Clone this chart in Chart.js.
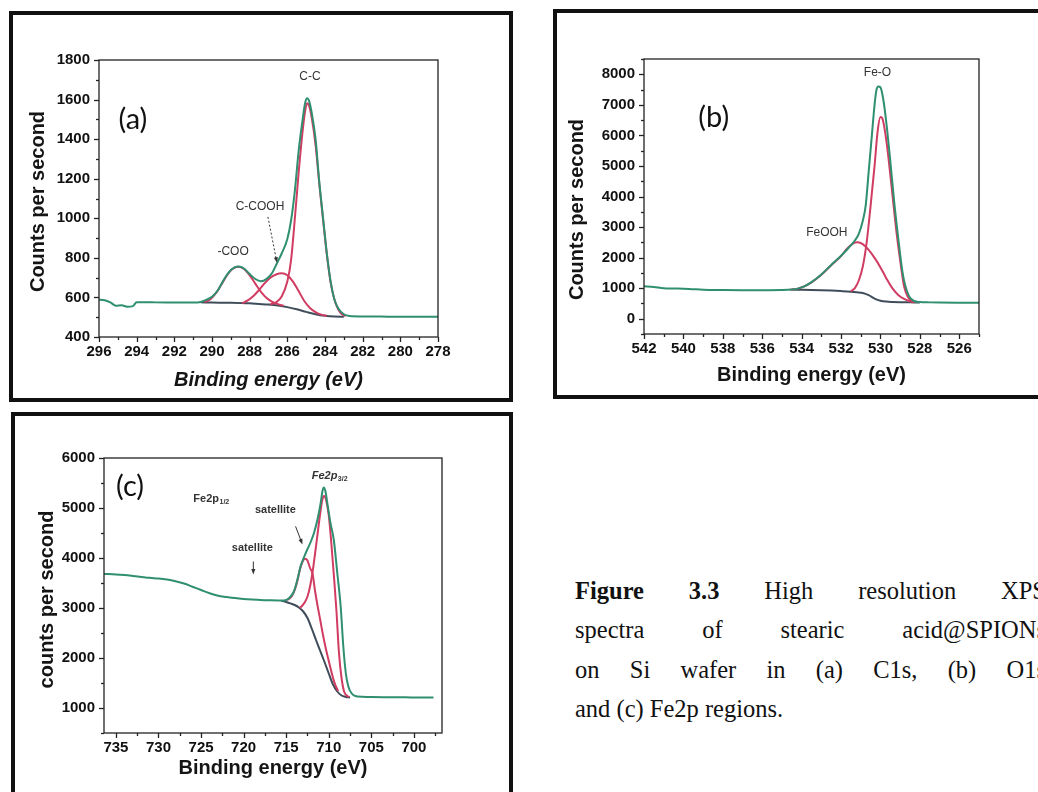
<!DOCTYPE html>
<html lang="en">

<head>
  <title></title>
  <meta charset="UTF-8">
  <script src="https://cdn.jsdelivr.net/npm/chart.js@4.4.1/dist/chart.umd.min.js"></script>
  <style>
    body { margin: 0; width: 1038px; height: 792px; overflow: hidden; background: #fff; position: relative; }
    .panel { position: absolute; border: 4px solid #111; box-sizing: border-box; }
    .panel canvas { display: block; }
    .caption { position: absolute; left: 575px; top: 571px; width: 471px; color: #111;
      font-family: "Liberation Serif", serif; font-size: 24.5px; line-height: 39.3px; }
    .caption div { text-align: justify; text-align-last: justify; }
    .caption div.last { text-align-last: left; }
  </style>
</head>

<body>
  <div class="panel" style="left:9px; top:11px; width:504px; height:391px;">
    <canvas id="c1s" width="496" height="383"></canvas>
  </div>
  <div class="panel" style="left:553px; top:9px; width:497px; height:390px;">
    <canvas id="o1s" width="489" height="382"></canvas>
  </div>
  <div class="panel" style="left:11px; top:412px; width:502px; height:392px;">
    <canvas id="fe2p" width="494" height="384"></canvas>
  </div>
  <div class="caption">
    <div><b>Figure 3.3</b> High resolution XPS</div>
    <div>spectra of stearic acid@SPIONs</div>
    <div>on Si wafer in (a) C1s, (b) O1s</div>
    <div class="last">and (c) Fe2p regions.</div>
  </div>

  <script>
    // (a) C1s  -- [binding energy eV, counts per second]
    const c1sXTicks = [296, 294, 292, 290, 288, 286, 284, 282, 280, 278];
    const c1sYTicks = [400, 600, 800, 1000, 1200, 1400, 1600, 1800];
    const c1sEnvelope = [[296, 588], [295.7, 586], [295.4, 575], [295.1, 558], [294.8, 560], [294.5, 553], [294.2, 556],
      [294.0, 576], [293.5, 576], [293, 575], [292, 574], [291, 574], [290.6, 577], [290.3, 588], [290.0, 603],
      [289.7, 635], [289.4, 685], [289.1, 728], [288.8, 752], [288.6, 756], [288.3, 746], [288.0, 718], [287.7, 693],
      [287.4, 682], [287.1, 694], [286.8, 725], [286.55, 773], [286.3, 822], [286.0, 895], [285.8, 990], [285.6, 1140],
      [285.4, 1340], [285.2, 1490], [285.05, 1585], [284.95, 1607], [284.85, 1595], [284.7, 1530], [284.5, 1400],
      [284.3, 1180], [284.1, 1000], [283.9, 820], [283.7, 680], [283.5, 590], [283.3, 545], [283.0, 515], [282.7, 506],
      [282, 504], [281, 503], [280, 502], [279, 502], [278, 502]];
    const c1sBackground = [[290.6, 575], [290, 574], [289, 573], [288, 570], [287.5, 567], [287, 564], [286.5, 559],
      [286, 551], [285.5, 540], [285, 527], [284.5, 515], [284, 507], [283.5, 503], [283, 502]];
    const c1sCOO = [[290.4, 577], [290.1, 590], [289.8, 620], [289.5, 665], [289.2, 712], [288.9, 745], [288.6, 755],
      [288.3, 744], [288.0, 712], [287.7, 670], [287.4, 628], [287.1, 597], [286.8, 578], [286.5, 566], [286.2, 558]];
    const c1sCCOOH = [[288.4, 571], [288.1, 585], [287.8, 607], [287.5, 638], [287.2, 672], [286.9, 700], [286.6, 716],
      [286.3, 722], [286.0, 712], [285.7, 680], [285.4, 632], [285.1, 582], [284.8, 547], [284.5, 526], [284.2, 513],
      [283.9, 507]];
    const c1sCC = [[286.9, 565], [286.6, 575], [286.3, 605], [286.0, 680], [285.8, 790], [285.6, 1000], [285.4, 1230],
      [285.2, 1430], [285.05, 1545], [284.95, 1582], [284.85, 1570], [284.7, 1505], [284.5, 1370], [284.3, 1170],
      [284.1, 990], [283.9, 815], [283.7, 675], [283.5, 590], [283.3, 540], [283.1, 515], [282.9, 506]];

    // (b) O1s
    const o1sXTicks = [542, 540, 538, 536, 534, 532, 530, 528, 526];
    const o1sYTicks = [0, 1000, 2000, 3000, 4000, 5000, 6000, 7000, 8000];
    const o1sEnvelope = [[542, 1060], [541.5, 1035], [541, 1000], [540.5, 990], [540, 982], [539.5, 965], [539, 950],
      [538, 940], [537, 935], [536, 935], [535, 940], [534.5, 955], [534.2, 985], [533.9, 1050], [533.5, 1200],
      [533, 1450], [532.5, 1760], [532, 2060], [531.6, 2330], [531.3, 2560], [531.1, 2780], [530.9, 3200],
      [530.75, 3700], [530.6, 4800], [530.45, 5900], [530.3, 7000], [530.2, 7500], [530.1, 7600], [530.0, 7570],
      [529.85, 7150], [529.7, 6400], [529.5, 5150], [529.3, 3800], [529.1, 2650], [528.9, 1600], [528.75, 1100],
      [528.55, 740], [528.3, 580], [528, 545], [527.5, 535], [527, 530], [526, 525], [525, 522]];
    const o1sBackground = [[534.5, 955], [534, 945], [533, 930], [532.5, 920], [532, 905], [531.5, 885], [531.2, 865],
      [530.9, 840], [530.6, 770], [530.3, 660], [530.0, 590], [529.7, 560], [529.4, 548], [529, 540], [528.5, 535],
      [528, 530]];
    const o1sFeO = [[531.5, 895], [531.3, 1000], [531.1, 1250], [530.9, 1700], [530.7, 2500], [530.5, 3700],
      [530.3, 5000], [530.15, 6100], [530.0, 6600], [529.9, 6550], [529.75, 6050], [529.6, 5300], [529.4, 4100],
      [529.2, 2900], [529.0, 1900], [528.8, 1050], [528.6, 700], [528.4, 580], [528.2, 545]];
    const o1sFeOOH = [[534.6, 950], [534.2, 985], [533.9, 1050], [533.5, 1190], [533, 1440], [532.5, 1750], [532, 2050],
      [531.7, 2290], [531.4, 2460], [531.15, 2500], [530.9, 2440], [530.6, 2250], [530.3, 1990], [530.0, 1680],
      [529.7, 1320], [529.4, 1000], [529.1, 780], [528.8, 650], [528.5, 570], [528.3, 540]];

    // (c) Fe2p
    const fe2pXTicks = [735, 730, 725, 720, 715, 710, 705, 700];
    const fe2pYTicks = [1000, 2000, 3000, 4000, 5000, 6000];
    const fe2pEnvelope = [[736.4, 3680], [735, 3672], [734, 3660], [733, 3642], [732, 3622], [731, 3603], [730, 3590],
      [729, 3568], [728, 3535], [727, 3490], [726, 3425], [725, 3360], [724, 3295], [723, 3245], [722, 3220],
      [721, 3198], [720, 3182], [719, 3170], [718, 3160], [717, 3154], [716, 3150], [715.3, 3150], [714.9, 3168],
      [714.5, 3225], [714.1, 3330], [713.7, 3560], [713.3, 3840], [712.9, 4020], [712.5, 4180], [712.1, 4330],
      [711.7, 4520], [711.3, 4790], [710.95, 5100], [710.75, 5330], [710.6, 5410], [710.4, 5340], [710.1, 5020],
      [709.8, 4700], [709.4, 4350], [709.0, 3700], [708.6, 3030], [708.3, 2250], [708.0, 1700], [707.7, 1430],
      [707.3, 1290], [706.9, 1240], [706, 1225], [705, 1220], [703, 1216], [701, 1213], [699, 1210], [697.7, 1210]];
    const fe2pBackground = [[715.6, 3148], [715, 3120], [714.5, 3092], [714, 3060], [713.5, 3010], [713.0, 2930],
      [712.5, 2800], [712.0, 2590], [711.5, 2360], [711.0, 2140], [710.5, 1920], [710.0, 1690], [709.5, 1470],
      [709.0, 1330], [708.5, 1250], [708.0, 1222], [707.5, 1212]];
    const fe2pSatellite = [[714.9, 3160], [714.6, 3190], [714.3, 3250], [714.0, 3360], [713.7, 3530], [713.4, 3760],
      [713.1, 3920], [712.8, 3985], [712.5, 3950], [712.2, 3800], [711.9, 3680], [711.6, 3330], [711.3, 3030],
      [711.0, 2760], [710.7, 2480], [710.4, 2230], [710.1, 2010], [709.8, 1800], [709.5, 1600], [709.2, 1450],
      [708.9, 1340]];
    const fe2pMain = [[713.4, 3000], [713.1, 3050], [712.8, 3120], [712.5, 3230], [712.2, 3430], [711.9, 3720],
      [711.6, 4100], [711.3, 4500], [711.0, 4900], [710.75, 5170], [710.55, 5240], [710.3, 5150], [710.0, 4850],
      [709.7, 4300], [709.4, 3650], [709.1, 2950], [708.8, 2100], [708.5, 1600], [708.2, 1330], [707.9, 1250],
      [707.6, 1220]];

    const GREEN = '#2f8f70', RED = '#d13c62', GREY = '#3f4d5a';
    const SANS = '"Liberation Sans", Arial, sans-serif';

    // frame, ticks (major + minor), axis titles, peak labels and arrows
    const panelDecor = {
      id: 'panelDecor',
      afterDraw(chart, args, o) {
        const { ctx, chartArea: a, scales: { x, y } } = chart;
        ctx.save();
        ctx.strokeStyle = '#222';
        ctx.lineWidth = 1.3;
        ctx.strokeRect(a.left, a.top, a.right - a.left, a.bottom - a.top);

        const isMajor = (v, step) => Math.abs(v / step - Math.round(v / step)) < 1e-6;
        for (let v = Math.ceil(x.min / o.xMinor) * o.xMinor; v <= x.max + 1e-9; v += o.xMinor) {
          const px = Math.round(x.getPixelForValue(v)) + 0.5;
          ctx.beginPath();
          ctx.moveTo(px, a.bottom);
          ctx.lineTo(px, a.bottom + (isMajor(v, o.xMajor) ? 5 : 3));
          ctx.stroke();
        }
        for (let v = Math.ceil(y.min / o.yMinor) * o.yMinor; v <= y.max + 1e-9; v += o.yMinor) {
          const py = Math.round(y.getPixelForValue(v)) + 0.5;
          ctx.beginPath();
          ctx.moveTo(a.left, py);
          ctx.lineTo(a.left - (isMajor(v, o.yMajor) ? 5 : 3), py);
          ctx.stroke();
        }

        ctx.fillStyle = '#151515';
        ctx.textAlign = 'center';
        ctx.textBaseline = 'middle';
        ctx.font = (o.xItalic ? 'italic ' : '') + 'bold 20px ' + SANS;
        ctx.fillText(o.xTitle, (a.left + a.right) / 2, a.bottom + o.xTitleGap);
        ctx.save();
        ctx.translate(a.left - o.yTitleGap, (a.top + a.bottom) / 2 + o.yTitleShift);
        ctx.rotate(-Math.PI / 2);
        ctx.font = 'bold 20px ' + SANS;
        ctx.fillText(o.yTitle, 0, 0);
        ctx.restore();

        o.labels.forEach(l => {
          const px = x.getPixelForValue(l.x), py = y.getPixelForValue(l.y);
          ctx.fillStyle = l.color || '#333';
          ctx.font = l.font;
          ctx.textAlign = 'center';
          ctx.fillText(l.text, px, py);
          if (l.sub) {
            const w = ctx.measureText(l.text).width;
            ctx.font = l.subFont;
            ctx.textAlign = 'left';
            ctx.fillText(l.sub, px + w / 2 + 0.5, py + 3);
          }
        });

        o.arrows.forEach(ar => {
          const x0 = x.getPixelForValue(ar.from[0]), y0 = y.getPixelForValue(ar.from[1]);
          const x1 = x.getPixelForValue(ar.to[0]), y1 = y.getPixelForValue(ar.to[1]);
          const ang = Math.atan2(y1 - y0, x1 - x0);
          ctx.strokeStyle = '#333';
          ctx.fillStyle = '#333';
          ctx.lineWidth = 1;
          ctx.setLineDash(ar.dash ? [2, 2] : []);
          ctx.beginPath();
          ctx.moveTo(x0, y0);
          ctx.lineTo(x1 - 4 * Math.cos(ang), y1 - 4 * Math.sin(ang));
          ctx.stroke();
          ctx.setLineDash([]);
          ctx.beginPath();
          ctx.moveTo(x1, y1);
          ctx.lineTo(x1 - 6 * Math.cos(ang - 0.35), y1 - 6 * Math.sin(ang - 0.35));
          ctx.lineTo(x1 - 6 * Math.cos(ang + 0.35), y1 - 6 * Math.sin(ang + 0.35));
          ctx.closePath();
          ctx.fill();
        });
        ctx.restore();
      }
    };

    function line(data, color, order) {
      return {
        data: data, borderColor: color, borderWidth: 2, pointRadius: 0, fill: false,
        cubicInterpolationMode: 'monotone', order: order
      };
    }

    function makePanel(id, p) {
      const tickFont = { family: SANS, weight: 'bold', size: 15 };
      return new Chart(id, {
        type: 'line',
        data: { datasets: p.datasets },
        plugins: [panelDecor],
        options: {
          responsive: false,
          animation: false,
          layout: { padding: { left: 0, top: p.top, right: p.right, bottom: 0 } },
          plugins: { legend: { display: false }, tooltip: { enabled: false }, panelDecor: p.decor },
          scales: {
            x: {
              type: 'linear', reverse: true, min: p.xMin, max: p.xMax,
              grid: { display: false, drawTicks: false }, border: { display: false },
              ticks: { font: tickFont, color: '#111', padding: 6, maxRotation: 0, autoSkip: false, callback: v => String(v) },
              afterBuildTicks: s => { s.ticks = p.xTicks.map(v => ({ value: v })); },
              afterFit: s => { s.height = p.xHeight; }
            },
            y: {
              type: 'linear', min: p.yMin, max: p.yMax,
              grid: { display: false, drawTicks: false }, border: { display: false },
              ticks: { font: tickFont, color: '#111', padding: 9, autoSkip: false, callback: v => String(v) },
              afterBuildTicks: s => { s.ticks = p.yTicks.map(v => ({ value: v })); },
              afterFit: s => { s.width = p.yWidth; }
            }
          }
        }
      });
    }

    const small = '12px ' + SANS, smallBold = 'bold 11px ' + SANS, letter = '29px Lato, "Open Sans", sans-serif';

    makePanel('c1s', {
      xMin: 278, xMax: 296, yMin: 400, yMax: 1800, xTicks: c1sXTicks, yTicks: c1sYTicks,
      top: 45, right: 71, yWidth: 86, xHeight: 61,
      datasets: [line(c1sEnvelope, GREEN, 0), line(c1sCOO, RED, 1), line(c1sCCOOH, RED, 1), line(c1sCC, RED, 1),
        line(c1sBackground, GREY, 2)],
      decor: {
        xTitle: 'Binding energy (eV)', xItalic: true, yTitle: 'Counts per second',
        xTitleGap: 43, yTitleGap: 61, yTitleShift: 3, xMinor: 1, xMajor: 2, yMinor: 100, yMajor: 200,
        labels: [
          { text: '(a)', x: 294.2, y: 1497, font: letter, color: '#111' },
          { text: 'C-C', x: 284.8, y: 1714, font: small },
          { text: 'C-COOH', x: 287.45, y: 1058, font: small },
          { text: '-COO', x: 288.88, y: 830, font: small }
        ],
        arrows: [{ from: [287.03, 1007], to: [286.55, 775], dash: true }]
      }
    });

    makePanel('o1s', {
      xMin: 525, xMax: 542, yMin: -500, yMax: 8500, xTicks: o1sXTicks, yTicks: o1sYTicks,
      top: 46, right: 67, yWidth: 87, xHeight: 61,
      datasets: [line(o1sEnvelope, GREEN, 0), line(o1sFeO, RED, 1), line(o1sFeOOH, RED, 1), line(o1sBackground, GREY, 2)],
      decor: {
        xTitle: 'Binding energy (eV)', xItalic: false, yTitle: 'Counts per second',
        xTitleGap: 41, yTitleGap: 67, yTitleShift: 13, xMinor: 1, xMajor: 2, yMinor: 500, yMajor: 1000,
        labels: [
          { text: '(b)', x: 538.46, y: 6566, font: letter, color: '#111' },
          { text: 'Fe-O', x: 530.15, y: 8065, font: small },
          { text: 'FeOOH', x: 532.72, y: 2817, font: small }
        ],
        arrows: []
      }
    });

    makePanel('fe2p', {
      xMin: 696.7, xMax: 736.4, yMin: 500, yMax: 6000, xTicks: fe2pXTicks, yTicks: fe2pYTicks,
      top: 42, right: 67, yWidth: 89, xHeight: 67,
      datasets: [line(fe2pEnvelope, GREEN, 0), line(fe2pSatellite, RED, 1), line(fe2pMain, RED, 1),
        line(fe2pBackground, GREY, 2)],
      decor: {
        xTitle: 'Binding energy (eV)', xItalic: false, yTitle: 'counts per second',
        xTitleGap: 35, yTitleGap: 57, yTitleShift: 4, xMinor: 2.5, xMajor: 5, yMinor: 500, yMajor: 1000,
        labels: [
          { text: '(c)', x: 733.34, y: 5437, font: letter, color: '#111' },
          { text: 'Fe2p', sub: '1/2', x: 724.4, y: 5176, font: smallBold, subFont: 'bold 7px ' + SANS },
          { text: 'satellite', x: 716.27, y: 4955, font: smallBold },
          { text: 'satellite', x: 718.98, y: 4191, font: smallBold },
          { text: 'Fe2p', sub: '3/2', x: 710.5, y: 5638, font: 'italic ' + smallBold, subFont: 'bold 7px ' + SANS }
        ],
        arrows: [
          { from: [713.9, 4633], to: [713.09, 4271] },
          { from: [718.86, 3930], to: [718.86, 3668] }
        ]
      }
    });
  </script>
</body>

</html>
